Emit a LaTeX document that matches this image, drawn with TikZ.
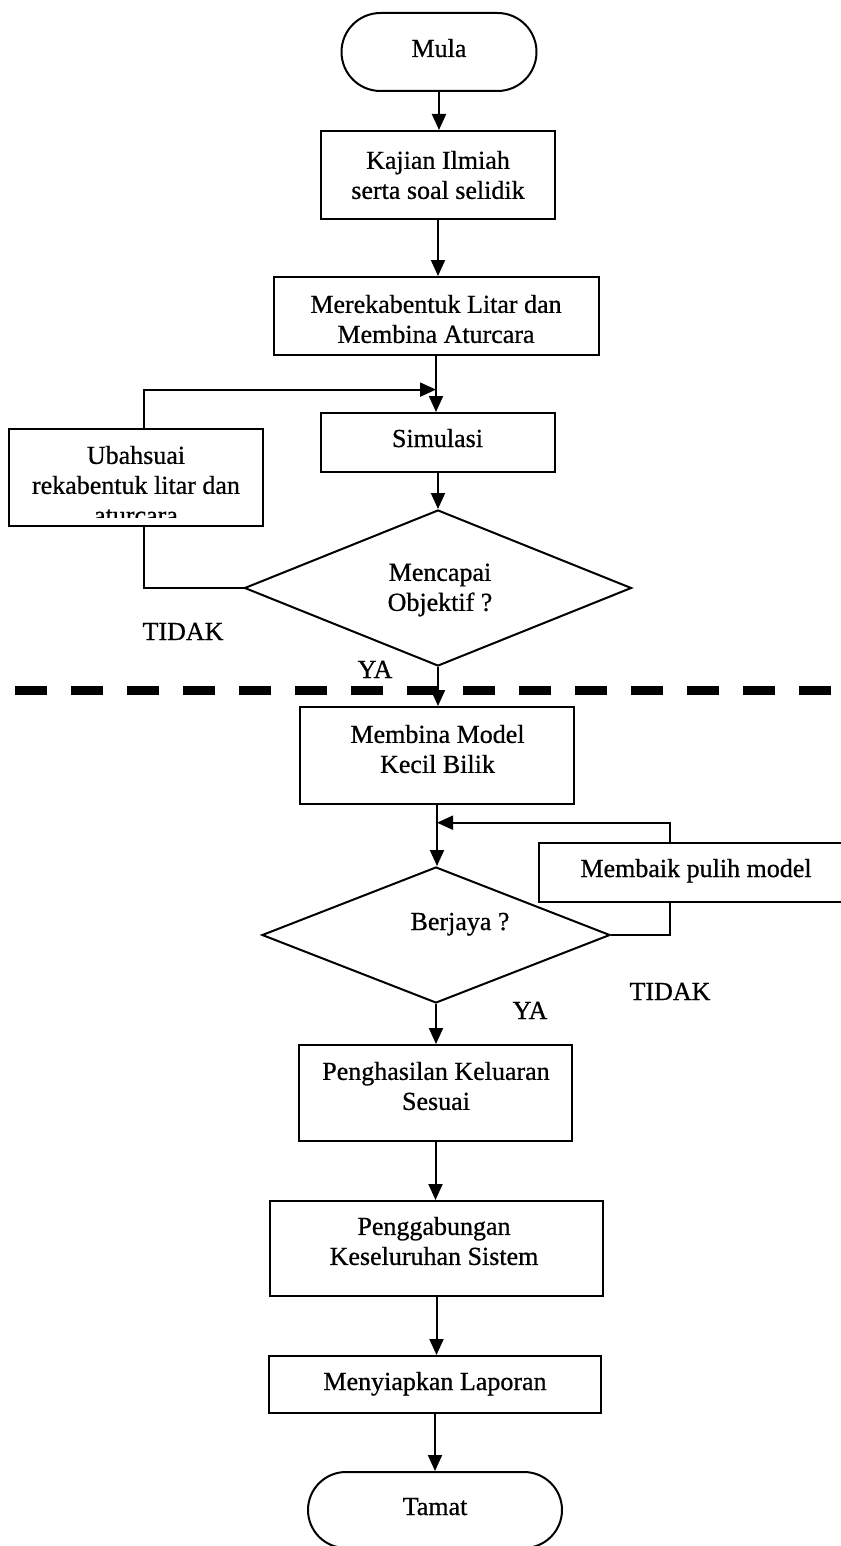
\documentclass[tikz,border=0pt]{standalone}
\usepackage{fontspec}
\setmainfont{Liberation Serif}[BoldFont={Liberation Serif},BoldFeatures={FakeBold=0.7}]
\usetikzlibrary{shapes.misc,shapes.geometric,arrows.meta,calc}
\begin{document}
\begin{tikzpicture}[x=1pt,y=-1pt,
  base/.style={draw=black, line width=2pt, inner sep=0pt},
  box/.style={base, rectangle},
  term/.style={base, rounded rectangle},
  dec/.style={base, diamond},
  txt/.style={align=center, inner sep=0pt, font=\fontsize{26pt}{30pt}\selectfont\bfseries},
  conn/.style={line width=2pt, draw=black},
  arr/.style={conn, -{Triangle[length=16pt,width=14pt]}},
  sep/.style={line width=9pt, dash pattern=on 32pt off 24pt}
]
\fill[white] (0,0) rectangle (840,1546);
\useasboundingbox (0,0) rectangle (840,1546);

% shapes
\node[term, minimum width=195pt, minimum height=78pt] (mula) at (439,52) {};
\node[box, minimum width=234pt, minimum height=88pt] (kajian) at (438,175) {};
\node[box, minimum width=325pt, minimum height=78pt] (mereka) at (436,316) {};
\node[box, minimum width=234pt, minimum height=59pt] (simulasi) at (438,442.5) {};
\node[box, minimum width=254pt, minimum height=97pt] (ubah) at (136,477.5) {};
\node[dec, minimum width=387pt, minimum height=156pt] (mencapai) at (438,588) {};
\node[box, minimum width=274pt, minimum height=97pt] (membina) at (437,755.5) {};
\node[box, minimum width=312pt, minimum height=59pt] (membaik) at (695,872.5) {};
\node[dec, minimum width=348pt, minimum height=136pt] (berjaya) at (436,935) {};
\node[box, minimum width=273pt, minimum height=96pt] (penghasilan) at (435.5,1093) {};
\node[box, minimum width=333pt, minimum height=95pt] (penggabungan) at (436.5,1248.5) {};
\node[box, minimum width=332pt, minimum height=57pt] (menyiapkan) at (435,1384.5) {};
\node[term, minimum width=254pt, minimum height=76pt] (tamat) at (435,1510) {};

% texts
\node[txt, anchor=base] (mulaT) at (439,57) {Mula};
\node[txt] (kajianT) at (438,175) {Kajian Ilmiah\\serta soal selidik};
\node[txt] (merekaT) at (436,319) {Merekabentuk Litar dan\\Membina Aturcara};
\node[txt, anchor=base] (simulasiT) at (437.5,447) {Simulasi};
\begin{scope}
  \clip (9,429) rectangle (263,517);
  \node[txt] (ubahT) at (136,485) {Ubahsuai\\rekabentuk litar dan\\aturcara};
\end{scope}
\node[txt] (mencapaiT) at (440,590) {Mencapai\\Objektif ?};
\node[txt, anchor=base] (tidakA) at (183,640) {TIDAK};
\node[txt, anchor=base] (yaA) at (375,678) {YA};
\node[txt] (membinaT) at (437.5,749) {Membina Model\\Kecil Bilik};
\node[txt, anchor=base] (membaikT) at (696,877) {Membaik pulih model};
\node[txt, anchor=base] (berjayaT) at (460,930) {Berjaya ?};
\node[txt, anchor=base] (tidakB) at (670,1000) {TIDAK};
\node[txt, anchor=base] (yaB) at (530,1019) {YA};
\node[txt] (penghasilanT) at (436,1086) {Penghasilan Keluaran\\Sesuai};
\node[txt] (penggabunganT) at (434,1241) {Penggabungan\\Keseluruhan Sistem};
\node[txt, anchor=base] (menyiapkanT) at (435,1390) {Menyiapkan Laporan};
\node[txt, anchor=base] (tamatT) at (435,1515) {Tamat};

% separator
\coordinate (sepL) at (15,690);
\coordinate (sepR) at (840,690);
\draw[sep] (sepL) -- (sepR);

% junctions
\coordinate (j1) at ($(mereka.south)!0.6!(mereka.south |- simulasi.north)$);
\coordinate (j2) at ($(membina.south)!0.29!(membina.south |- berjaya.north)$);

% main flow
\draw[arr] (mula.south) -- (mula.south |- kajian.north);
\draw[arr] (kajian.south) -- (kajian.south |- mereka.north);
\draw[arr] (mereka.south) -- (mereka.south |- simulasi.north);
\draw[arr] (simulasi.south) -- (simulasi.south |- mencapai.north);
\draw[arr] (mencapai.south) -- (mencapai.south |- membina.north);
\draw[arr] (membina.south) -- (membina.south |- berjaya.north);
\draw[arr] (berjaya.south) -- (berjaya.south |- penghasilan.north);
\draw[arr] (penghasilan.south) -- (penghasilan.south |- penggabungan.north);
\draw[arr] (penggabungan.south) -- (penggabungan.south |- menyiapkan.north);
\draw[arr] (menyiapkan.south) -- (menyiapkan.south |- tamat.north);

% feedback loops
\draw[conn] ([xshift=8pt]ubah.south) |- (mencapai.west);
\draw[arr] ([xshift=8pt]ubah.north) |- (j1);
\draw[conn] (berjaya.east) -| ([xshift=-25pt]membaik.south);
\draw[arr] ([xshift=-25pt]membaik.north) |- (j2);
\end{tikzpicture}
\end{document}
